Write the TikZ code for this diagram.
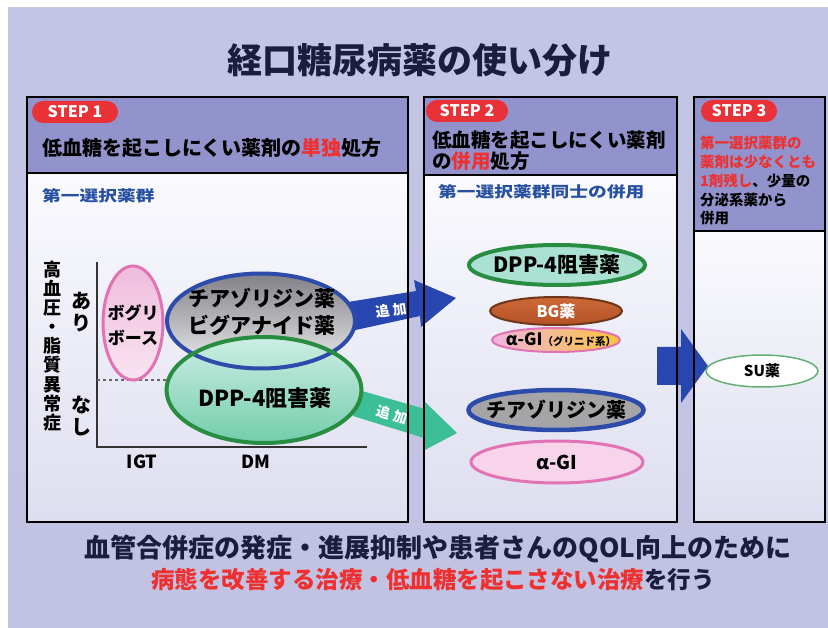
\documentclass[tikz,border=0pt]{standalone}
\usepackage{fontspec}
\newfontfamily\jp{Noto Sans CJK JP}
\usetikzlibrary{shapes.geometric}
\newcommand\fsz[1]{\fontsize{#1}{#1}\selectfont}
\definecolor{bgtop}{RGB}{196,196,228}
\definecolor{bgmid}{RGB}{236,236,246}
\definecolor{bgbot}{RGB}{194,194,226}
\definecolor{navy}{RGB}{28,28,64}
\definecolor{stepred}{RGB}{232,50,56}
\definecolor{textred}{RGB}{238,48,48}
\definecolor{labelblue}{RGB}{40,80,160}
\definecolor{hdrc}{RGB}{146,146,204}
\definecolor{bodytop}{RGB}{250,250,254}
\definecolor{bodybot}{RGB}{222,222,240}
\definecolor{ringblue}{RGB}{45,75,170}
\definecolor{ringgreen}{RGB}{40,140,65}
\definecolor{ringpink}{RGB}{225,115,180}
\definecolor{arrowblue}{RGB}{40,70,175}
\definecolor{arrowgreen}{RGB}{60,190,150}
\definecolor{pinktop}{RGB}{238,188,220}
\definecolor{pinkbot}{RGB}{250,228,240}
\definecolor{gray1}{RGB}{128,128,134}
\definecolor{gray2}{RGB}{172,172,175}
\definecolor{gray3}{RGB}{238,238,240}
\definecolor{teal1}{RGB}{205,238,228}
\definecolor{teal2}{RGB}{115,205,172}
\definecolor{dppfill}{RGB}{170,225,210}
\definecolor{bg1}{RGB}{205,105,55}
\definecolor{bg2}{RGB}{180,82,40}
\definecolor{bgborder}{RGB}{110,55,25}
\definecolor{agl}{RGB}{240,180,222}
\definecolor{agr}{RGB}{250,196,60}
\definecolor{thzgray}{RGB}{165,165,168}
\definecolor{agifill}{RGB}{248,212,234}
\definecolor{suring}{RGB}{100,175,115}
\begin{document}
\begin{tikzpicture}[x=1pt,y=-1pt,
  every node/.style={inner sep=0pt,outer sep=0pt},
  panelhdr/.style={rectangle,anchor=north west,fill=hdrc},
  panelbody/.style={rectangle,anchor=north west,top color=bodytop,bottom color=bodybot},
  frame/.style={draw=black,line width=2.4pt},
  steppill/.style={rectangle,rounded corners=11pt,fill=stepred,text=white,minimum height=22pt,font=\jp\bfseries\fsz{16}},
  bold/.style={font=\jp\bfseries\fsz{#1}},
  hdrtext/.style={anchor=west,font=\jp\bfseries\fsz{#1}},
  bluelabel/.style={anchor=west,font=\jp\bfseries\fsz{15},text=labelblue,xscale=1.25},
  vstacka/.style={align=center,font=\jp\bfseries\fontsize{18}{19.1}\selectfont},
  vstackb/.style={align=center,font=\jp\bfseries\fontsize{20}{22}\selectfont},
  addtext/.style={font=\jp\bfseries\fsz{14},text=white}
]
\useasboundingbox (0,0) rectangle (828,628);
% background
\fill[white] (0,0) rectangle (828,628);
\shade[top color=bgtop,middle color=bgmid,bottom color=bgbot] (8,8) rectangle (828,628);

% title
\node[bold=35,text=navy] (title) at (420,60) {経口糖尿病薬の使い分け};

% panel fills
\node[panelhdr,minimum width=381pt,minimum height=76pt] (h1) at (27,97) {};
\node[panelbody,minimum width=381pt,minimum height=349pt] (b1) at (27,173) {};
\node[panelhdr,minimum width=253pt,minimum height=78pt] (h2) at (424,97) {};
\node[panelbody,minimum width=253pt,minimum height=347pt] (b2) at (424,175) {};
\node[panelhdr,minimum width=131pt,minimum height=134pt] (h3) at (694,97) {};
\node[panelbody,minimum width=131pt,minimum height=291pt] (b3) at (694,231) {};

% arrows
\fill[arrowblue] (348,302) -- (416,291) -- (414,280) -- (456,298) -- (421,327) -- (420,316) -- (351,331) -- cycle;
\fill[arrowgreen] (355,389) -- (425,409) -- (424,401) -- (457,433) -- (423,451) -- (424,438) -- (353,416) -- cycle;
\fill[arrowblue] (657,347) -- (681,347) -- (681,329) -- (708,366) -- (681,403) -- (681,385) -- (657,385) -- cycle;
\node[addtext,rotate=8] (add1) at (391,310) {追 加};
\node[addtext,rotate=-16] (add2) at (392,415) {追 加};

% panel borders
\foreach \n in {h1,b1,h2,b2,h3,b3} \draw[frame] (\n.north west) rectangle (\n.south east);

% step pills
\node[steppill,minimum width=86pt] (s1) at (75,112) {STEP 1};
\node[steppill,minimum width=82pt] (s2) at (467,111) {STEP 2};
\node[steppill,minimum width=76pt] (s3) at (739,111) {STEP 3};

% header texts
\node[hdrtext=20] (h1t) at (42,148) {低血糖を起こしにくい薬剤の\textcolor{textred}{単独}処方};
\node[hdrtext=19.5] (h2t1) at (432,140) {低血糖を起こしにくい薬剤};
\node[hdrtext=19.5] (h2t2) at (432,161) {の\textcolor{textred}{併用}処方};
\node[hdrtext=14.5,text=textred] (h3a) at (700,143) {第一選択薬群の};
\node[hdrtext=14.5,text=textred] (h3b) at (700,162) {薬剤は少なくとも};
\node[hdrtext=14.5] (h3c) at (700,181) {\textcolor{textred}{1剤残し}、少量の};
\node[hdrtext=14.5] (h3d) at (700,200) {分泌系薬から};
\node[hdrtext=14.5] (h3e) at (700,218) {併用};

\node[bluelabel] (l1) at (42,196) {第一選択薬群};
\node[bluelabel] (l2) at (438,192) {第一選択薬群同士の併用};

% chart
\coordinate (ytop) at (97,262);
\coordinate (orig) at (97,447);
\coordinate (xend) at (367,447);
\coordinate (dashend) at (170,380);
\coordinate (dashstart) at (97,380);
\draw[line width=1.5pt,black!80] (ytop) -- (orig) -- (xend);
\draw[dashed,line width=1.2pt,black!60] (dashstart) -- (dashend);

\node[vstacka] (ylab) at (52,346) {高\\血\\圧\\・\\脂\\質\\異\\常\\症};
\node[vstackb] (ari) at (81,312) {あ\\り};
\node[vstackb] (nashi) at (81,416) {な\\し};
\node[bold=18] (igt) at (142,462) {IGT};
\node[bold=18] (dm) at (256,462) {DM};

\node[ellipse,minimum width=60pt,minimum height=114pt,top color=pinktop,bottom color=pinkbot,draw=ringpink,line width=3pt] (bog) at (133,323) {};
\node[ellipse,minimum width=188pt,minimum height=95pt,top color=gray1,middle color=gray2,bottom color=gray3] (thz) at (261,321) {};
\node[ellipse,minimum width=195pt,minimum height=106pt,top color=teal1,bottom color=teal2] (dpp) at (264,390) {};
\draw[ringblue,line width=4pt] (thz.center) ellipse [x radius=94,y radius=47.5];
\draw[ringgreen,line width=4pt] (dpp.center) ellipse [x radius=97.5,y radius=53];

\node[align=center,font=\jp\bfseries\fontsize{17}{25}\selectfont] (bogt) at (133,325) {ボグリ\\ボース};
\node[align=center,font=\jp\bfseries\fontsize{21}{27}\selectfont] (thzt) at (262,312) {チアゾリジン薬\\ビグアナイド薬};
\node[bold=22] (dppt) at (265,398) {DPP-4阻害薬};

% step 2 ellipses
\node[ellipse,minimum width=176pt,minimum height=40pt,fill=dppfill,draw=ringgreen,line width=4pt] (dpp2) at (557,265) {};
\node[bold=21] at (dpp2) {DPP-4阻害薬};
\node[ellipse,minimum width=132pt,minimum height=28pt,top color=bg1,bottom color=bg2,draw=bgborder,line width=2pt] (bg) at (556,311) {};
\node[bold=16,text=white] at (bg) {BG薬};
\node[ellipse,minimum width=128pt,minimum height=24pt,left color=agl,right color=agr,draw=ringpink,line width=2pt] (agi1) at (556,340) {};
\node[font=\jp\bfseries] at (561,340) {\fsz{17}α-GI\fsz{10.5}（グリニド系）};
\node[ellipse,minimum width=175pt,minimum height=40pt,fill=thzgray,draw=ringblue,line width=4.5pt] (thz2) at (556,410) {};
\node[bold=20] at (thz2) {チアゾリジン薬};
\node[ellipse,minimum width=172pt,minimum height=42pt,fill=agifill,draw=ringpink,line width=3pt] (agi2) at (557,462) {};
\node[bold=19] at (agi2) {α-GI};

% step 3
\node[ellipse,minimum width=112pt,minimum height=32pt,fill=white,draw=suring,line width=1.5pt] (su) at (762,371) {};
\node[bold=15] at (su) {SU薬};

% bottom texts
\node[bold=26,text=navy] (bt1) at (438,549) {血管合併症の発症・進展抑制や患者さんのQOL向上のために};
\node[bold=23.5,text=navy] (bt2) at (433,580) {\textcolor{textred}{病態を改善する治療・低血糖を起こさない治療}を行う};
\end{tikzpicture}
\end{document}
